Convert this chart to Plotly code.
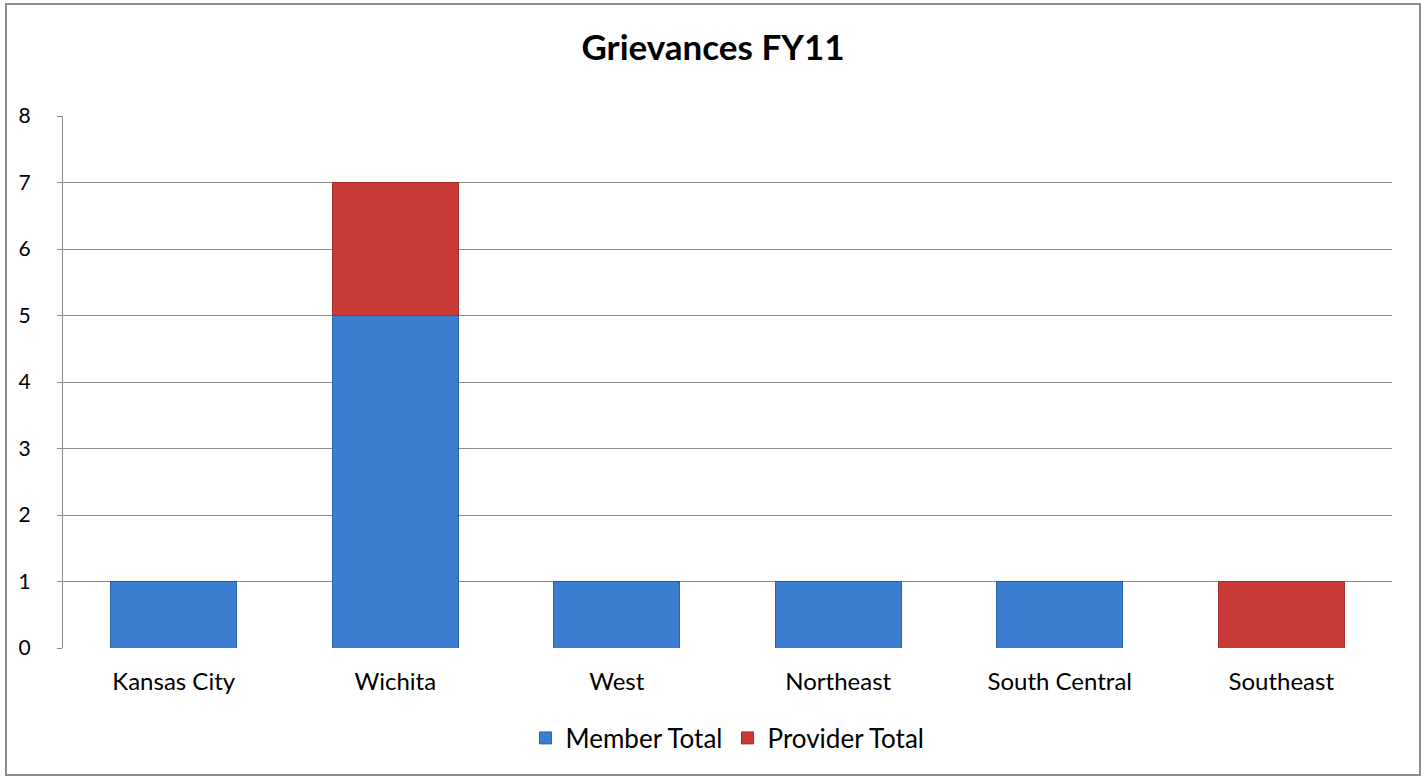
import plotly.graph_objects as go

categories = ["Kansas City", "Wichita", "West", "Northeast", "South Central", "Southeast"]
member_total = [1, 5, 1, 1, 1, 0]
provider_total = [0, 2, 0, 0, 0, 1]
y_ticks = [0, 1, 2, 3, 4, 5, 6, 7, 8]

W, H = 1426, 777
L, R, T, B = 63, 34, 116, 129
pw, ph = W - L - R, H - T - B

fig = go.Figure()
fig.add_trace(go.Bar(name="Member Total", x=categories, y=member_total,
                     marker=dict(color="#3B7DD0", line=dict(color="#2D64A8", width=1))))
fig.add_trace(go.Bar(name="Provider Total", x=categories, y=provider_total,
                     marker=dict(color="#C93A37", line=dict(color="#A02E2B", width=1))))

fig.update_layout(
    barmode="stack",
    bargap=0.43,
    width=W, height=H,
    margin=dict(l=L, r=R, t=T, b=B),
    paper_bgcolor="white", plot_bgcolor="white",
    font=dict(family="Lato, 'Open Sans', sans-serif", size=20, color="#000000"),
    title=dict(text="<b>Grievances FY11</b>", x=0.5, xanchor="center", y=1 - 48 / H, yanchor="middle",
               font=dict(size=35, color="#000000")),
    showlegend=True,
    legend=dict(orientation="h", x=0.5, xanchor="center", y=-(738 - 648) / ph, yanchor="middle",
                font=dict(size=26), traceorder="normal", itemwidth=30),
    xaxis=dict(showgrid=False, showline=False, ticks="", tickfont=dict(size=24),
               ticklabelstandoff=17),
    yaxis=dict(range=[0, 8], tickvals=y_ticks, showgrid=True, gridcolor="#8C8C8C", gridwidth=1,
               showline=True, linecolor="#8C8C8C", linewidth=1, zeroline=False,
               ticks="outside", ticklen=5, tickcolor="#8C8C8C",
               ticklabelstandoff=22, tickfont=dict(size=21)),
    shapes=[dict(type="rect", xref="paper", yref="paper",
                 x0=(6 - L) / pw, x1=(1420 - L) / pw,
                 y0=(H - B - 775) / ph, y1=(H - B - 4) / ph,
                 line=dict(color="#8C8C8C", width=2), fillcolor="rgba(0,0,0,0)", layer="below")],
)

fig.write_html("out.html", config={"displayModeBar": False},
               post_script="document.body.style.margin='0px';")
